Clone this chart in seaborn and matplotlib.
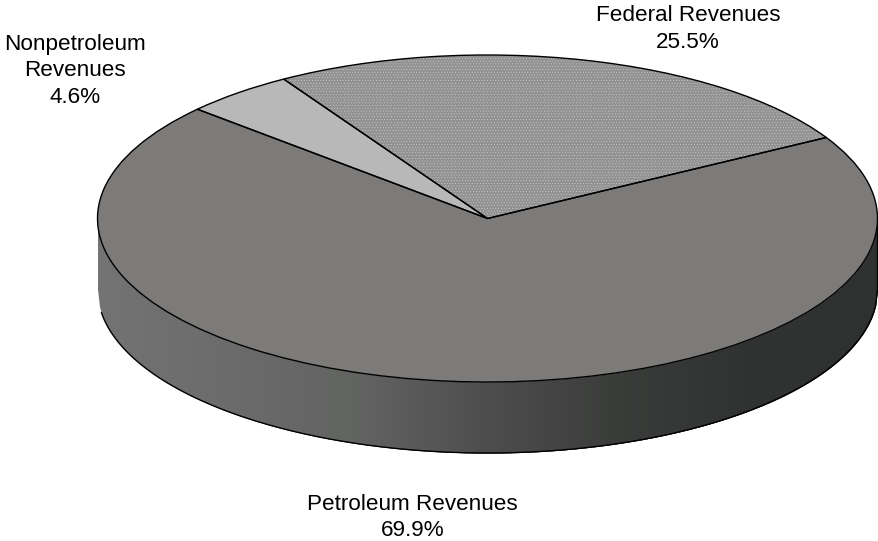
import numpy as np
import seaborn as sns
import matplotlib.pyplot as plt

sns.set_theme(style="white")
plt.rcParams['font.family'] = ['Liberation Sans', 'DejaVu Sans']
plt.rcParams['hatch.linewidth'] = 0.25

labels = ["Federal Revenues\n25.5%", "Nonpetroleum\nRevenues\n4.6%", "Petroleum Revenues\n69.9%"]
shares = [25.5, 4.6, 69.9]
slice_colors = ["#929292", "#b8b8b8", "#7c7b79"]
side_colors = ["#727372", "#6a6b6a", "#616361", "#4c4d4c", "#3a3c3a", "#303231", "#2f3130"]

# ellipse in pixels of the 879x541 picture
cx, cy, rx, ry, depth_px = 487.5, 218.5, 390, 163.5, 71
depth = depth_px / ry

fig = plt.figure(figsize=(8.79, 5.41), dpi=100)
ax = fig.add_axes([0, 0, 1, 1])

# side of the disc, strips overlap so no seams show
xs = np.linspace(-1, 1, 401)
top_edge = -np.sqrt(1 - xs ** 2)
ramp = sns.blend_palette(side_colors, n_colors=len(xs) - 1)
for i in range(len(xs) - 1):
    ax.fill_between(xs[i:i + 4], top_edge[i:i + 4], top_edge[i:i + 4] - depth,
                    color=ramp[i], lw=0, antialiased=False, zorder=1)
ax.plot(xs[2:], top_edge[2:] - depth, color="black", lw=1.0, zorder=2)
ax.plot([1, 1], [0, -depth], color="black", lw=1.0, zorder=2)

# top of the disc
fills, _ = ax.pie(shares, colors=slice_colors, startangle=29.7, radius=1,
                  wedgeprops={"linewidth": 0})
fills[0].set_hatch("......")
fills[0].set_edgecolor("#d4d4d4")
fills[0].set_linewidth(0)
for w in fills:
    w.set_zorder(3)
outlines, _ = ax.pie(shares, colors=["none"] * 3, startangle=29.7, radius=1,
                     wedgeprops={"linewidth": 1.0, "edgecolor": "black", "facecolor": "none"})
for w in outlines:
    w.set_zorder(4)

ax.set_aspect("auto")
ax.set_xlim((0 - cx) / rx, (879 - cx) / rx)
ax.set_ylim((cy - 541) / ry, cy / ry)
ax.axis("off")

# label centres, converted to data units
label_x = [688, 75.5, 412.5]
label_y = [29, 71, 517.5]
for text, px, py in zip(labels, label_x, label_y):
    ax.text((px - cx) / rx, (cy - py) / ry, text, ha="center", va="center",
            fontsize=16.2, color="black", linespacing=1.36, zorder=5)

fig.savefig("out.png", dpi=100)
